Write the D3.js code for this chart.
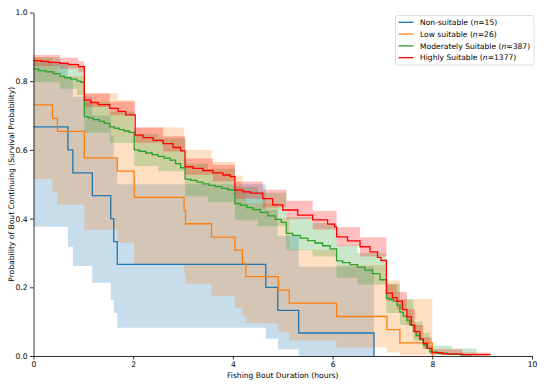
<!DOCTYPE html>
<html>
<head>
<meta charset="utf-8">
<script src="https://cdn.jsdelivr.net/npm/d3@7"></script>
<style>
  body { margin: 0; background: #fff; }
  text { font-family: "DejaVu Sans", sans-serif; }
</style>
</head>
<body>
<svg id="chart" width="550" height="386"></svg>
<script>
// group labels, sizes and colours
var groupNames = ["Non-suitable", "Low suitable", "Moderately Suitable", "Highly Suitable"];
var groupN = [15, 26, 387, 1377];
var groupColors = ["#1f77b4", "#ff7f0e", "#2ca02c", "#ff0000"];

// survival steps [hours, probability]
var blueSteps = [[0, 0.667], [0.69, 0.600], [0.79, 0.533], [1.18, 0.467], [1.55, 0.400], [1.61, 0.333],
  [1.68, 0.267], [4.66, 0.200], [4.90, 0.133], [5.32, 0.067], [6.83, 0.0]];
var orangeSteps = [[0, 0.731], [0.38, 0.692], [0.48, 0.654], [1.02, 0.577], [1.68, 0.538], [2.02, 0.462],
  [3.02, 0.423], [3.05, 0.385], [3.57, 0.346], [4.04, 0.308], [4.19, 0.269], [4.26, 0.231],
  [4.91, 0.192], [5.13, 0.154], [6.08, 0.115], [7.09, 0.077], [7.35, 0.038], [8.0, 0.0]];
var greenSteps = [[0, 0.835], [0.10, 0.831], [0.25, 0.827], [0.40, 0.822], [0.53, 0.815], [0.62, 0.810],
  [0.75, 0.806], [0.87, 0.800], [0.95, 0.797], [1.02, 0.697], [1.10, 0.693], [1.20, 0.688], [1.32, 0.683],
  [1.42, 0.677], [1.53, 0.667], [1.62, 0.663], [1.72, 0.659], [1.82, 0.655], [1.92, 0.651], [2.02, 0.600],
  [2.12, 0.596], [2.25, 0.591], [2.38, 0.586], [2.50, 0.581], [2.62, 0.576], [2.74, 0.570], [2.85, 0.560],
  [2.95, 0.548], [3.04, 0.515], [3.15, 0.511], [3.28, 0.506], [3.40, 0.501], [3.52, 0.497], [3.65, 0.493],
  [3.78, 0.488], [3.90, 0.484], [4.04, 0.444], [4.15, 0.439], [4.28, 0.432], [4.40, 0.426], [4.55, 0.418],
  [4.70, 0.408], [4.85, 0.398], [4.97, 0.389], [5.07, 0.357], [5.20, 0.351], [5.35, 0.343], [5.50, 0.336],
  [5.65, 0.329], [5.80, 0.321], [5.95, 0.312], [6.08, 0.277], [6.20, 0.272], [6.35, 0.266], [6.50, 0.259],
  [6.65, 0.250], [6.80, 0.240], [6.95, 0.222], [7.08, 0.168], [7.15, 0.165], [7.22, 0.160], [7.29, 0.148],
  [7.35, 0.128], [7.42, 0.116], [7.49, 0.104], [7.55, 0.090], [7.62, 0.071], [7.68, 0.060], [7.75, 0.047],
  [7.82, 0.033], [7.88, 0.022], [7.95, 0.012], [8.10, 0.008], [8.30, 0.005], [8.55, 0.003], [8.79, 0.003]];
var redSteps = [[0, 0.860], [0.15, 0.858], [0.30, 0.855], [0.53, 0.852], [0.70, 0.848], [0.90, 0.842],
  [1.02, 0.745], [1.15, 0.738], [1.30, 0.732], [1.53, 0.721], [1.70, 0.712], [1.85, 0.702], [2.04, 0.643],
  [2.20, 0.636], [2.40, 0.628], [2.60, 0.618], [2.80, 0.607], [2.95, 0.597], [3.04, 0.551], [3.20, 0.546],
  [3.40, 0.540], [3.60, 0.533], [3.80, 0.527], [3.95, 0.522], [4.04, 0.483], [4.20, 0.478], [4.35, 0.474],
  [4.60, 0.458], [4.80, 0.440], [5.00, 0.425], [5.30, 0.410], [5.60, 0.396], [5.90, 0.384], [6.04, 0.376],
  [6.08, 0.347], [6.30, 0.335], [6.55, 0.318], [6.75, 0.303], [6.90, 0.287], [6.97, 0.278], [7.08, 0.183],
  [7.20, 0.170], [7.29, 0.160], [7.40, 0.135], [7.49, 0.114], [7.58, 0.090], [7.65, 0.071], [7.75, 0.050],
  [7.82, 0.037], [7.90, 0.022], [7.99, 0.010], [8.20, 0.006], [8.60, 0.004], [9.16, 0.003]];

// confidence bands [hours, lower, upper]
var blueBand = [[0, 0.376, 0.855], [0.69, 0.318, 0.81], [0.79, 0.262, 0.755], [1.18, 0.213, 0.70],
  [1.55, 0.163, 0.64], [1.61, 0.125, 0.575], [1.68, 0.082, 0.50], [4.66, 0.05, 0.425], [4.90, 0.02, 0.35],
  [5.32, 0.0, 0.26], [6.83, 0, 0]];
var orangeBand = [[0, 0.515, 0.87], [0.38, 0.476, 0.845], [0.48, 0.44, 0.815], [1.02, 0.367, 0.765],
  [1.68, 0.33, 0.745], [2.02, 0.267, 0.665], [3.02, 0.24, 0.63], [3.05, 0.21, 0.60], [3.57, 0.175, 0.565],
  [4.04, 0.14, 0.525], [4.19, 0.114, 0.485], [4.26, 0.095, 0.445], [4.91, 0.07, 0.40], [5.13, 0.045, 0.31],
  [6.08, 0.025, 0.265], [7.09, 0.01, 0.22], [7.35, 0.002, 0.165], [8.0, 0, 0]];
var greenBand = [[0, 0.797, 0.870], [0.53, 0.778, 0.852], [0.87, 0.760, 0.838], [1.02, 0.650, 0.740],
  [1.53, 0.620, 0.712], [2.02, 0.553, 0.647], [2.50, 0.538, 0.634], [3.04, 0.465, 0.560], [3.50, 0.448, 0.545],
  [4.04, 0.395, 0.492], [4.50, 0.378, 0.475], [5.07, 0.308, 0.405], [5.60, 0.290, 0.387], [6.08, 0.228, 0.322],
  [6.50, 0.208, 0.300], [7.08, 0.125, 0.210], [7.35, 0.090, 0.165], [7.62, 0.045, 0.100], [7.80, 0.020, 0.068],
  [7.95, 0.005, 0.030], [8.40, 0.002, 0.022], [8.89, 0.002, 0.022]];
var redBand = [[0, 0.844, 0.876], [0.53, 0.836, 0.868], [0.90, 0.826, 0.858], [1.02, 0.725, 0.764],
  [1.53, 0.701, 0.741], [2.04, 0.621, 0.665], [2.60, 0.595, 0.640], [3.04, 0.528, 0.575], [3.60, 0.509, 0.557],
  [4.04, 0.458, 0.508], [4.60, 0.432, 0.484], [5.07, 0.398, 0.452], [5.60, 0.368, 0.422], [6.08, 0.320, 0.375],
  [6.55, 0.290, 0.346], [7.08, 0.160, 0.208], [7.29, 0.137, 0.186], [7.49, 0.092, 0.136], [7.65, 0.054, 0.090],
  [7.82, 0.023, 0.054], [7.99, 0.003, 0.020], [8.60, 0.001, 0.010], [9.16, 0.001, 0.010]];

var xTicks = [0, 2, 4, 6, 8, 10];
var yTicks = [0, 0.2, 0.4, 0.6, 0.8, 1.0];

var svg = d3.select('#chart');
var fontSize = 7.6;

var x = d3.scaleLinear().domain([0, 10]).range([33.5, 532]);
var y = d3.scaleLinear().domain([0, 1]).range([356, 12.5]);

var allSteps = [blueSteps, orangeSteps, greenSteps, redSteps];
var allBands = [blueBand, orangeBand, greenBand, redBand];

var line = d3.line()
  .x(function (d) { return x(d[0]); })
  .y(function (d) { return y(d[1]); })
  .curve(d3.curveStepAfter);

var area = d3.area()
  .x(function (d) { return x(d[0]); })
  .y0(function (d) { return y(d[1]); })
  .y1(function (d) { return y(d[2]); })
  .curve(d3.curveStepAfter);

var plot = svg.append('g');

// shaded confidence bands first, lines on top
plot.selectAll('path.band')
  .data(allBands)
  .enter()
  .append('path')
  .attr('class', 'band')
  .attr('d', function (d) { return area(d); })
  .attr('fill', function (d, i) { return groupColors[i]; })
  .attr('fill-opacity', 0.25)
  .attr('stroke', 'none');

plot.selectAll('path.km')
  .data(allSteps)
  .enter()
  .append('path')
  .attr('class', 'km')
  .attr('d', function (d) { return line(d); })
  .attr('fill', 'none')
  .attr('stroke', function (d, i) { return groupColors[i]; })
  .attr('stroke-width', 1.3);

// axes
var xAxis = svg.append('g')
  .attr('transform', 'translate(0,' + y(0) + ')')
  .call(d3.axisBottom(x).tickValues(xTicks).tickFormat(d3.format('d')).tickSize(3.5).tickSizeOuter(0).tickPadding(2.5));
var yAxis = svg.append('g')
  .attr('transform', 'translate(' + x(0) + ',0)')
  .call(d3.axisLeft(y).tickValues(yTicks).tickFormat(d3.format('.1f')).tickSize(3.5).tickSizeOuter(0).tickPadding(2.5));

[xAxis, yAxis].forEach(function (g) {
  g.select('.domain').attr('stroke', '#000').attr('stroke-width', 0.8);
  g.selectAll('.tick line').attr('stroke', '#000').attr('stroke-width', 0.8);
  g.selectAll('.tick text')
    .attr('fill', '#000')
    .style('font-size', fontSize + 'px')
    .style('font-family', '"DejaVu Sans", sans-serif');
});

svg.append('text')
  .attr('x', (x(0) + x(10)) / 2)
  .attr('y', 378)
  .attr('text-anchor', 'middle')
  .style('font-size', fontSize + 'px')
  .text('Fishing Bout Duration (hours)');

svg.append('text')
  .attr('transform', 'translate(13.5,' + ((y(0) + y(1)) / 2) + ') rotate(-90)')
  .attr('text-anchor', 'middle')
  .style('font-size', fontSize + 'px')
  .text('Probability of Bout Continuing (Survival Probability)');

// legend
var legend = svg.append('g').attr('transform', 'translate(395.5,15.5)');
legend.append('rect')
  .attr('width', 138.5)
  .attr('height', 49.5)
  .attr('rx', 2)
  .attr('fill', '#fff')
  .attr('fill-opacity', 0.8)
  .attr('stroke', '#d6d6d6')
  .attr('stroke-width', 0.8);

groupNames.forEach(function (name, i) {
  var row = legend.append('g').attr('transform', 'translate(0,' + (6.8 + i * 11.8) + ')');
  row.append('line')
    .attr('x1', 3).attr('x2', 18)
    .attr('stroke', groupColors[i])
    .attr('stroke-width', 1.3);
  var t = row.append('text')
    .attr('x', 24.5)
    .attr('y', 2.7)
    .style('font-size', fontSize + 'px');
  t.append('tspan').text(name + ' (');
  t.append('tspan').style('font-style', 'italic').text('n');
  t.append('tspan').text('=' + groupN[i] + ')');
});
</script>
</body>
</html>
